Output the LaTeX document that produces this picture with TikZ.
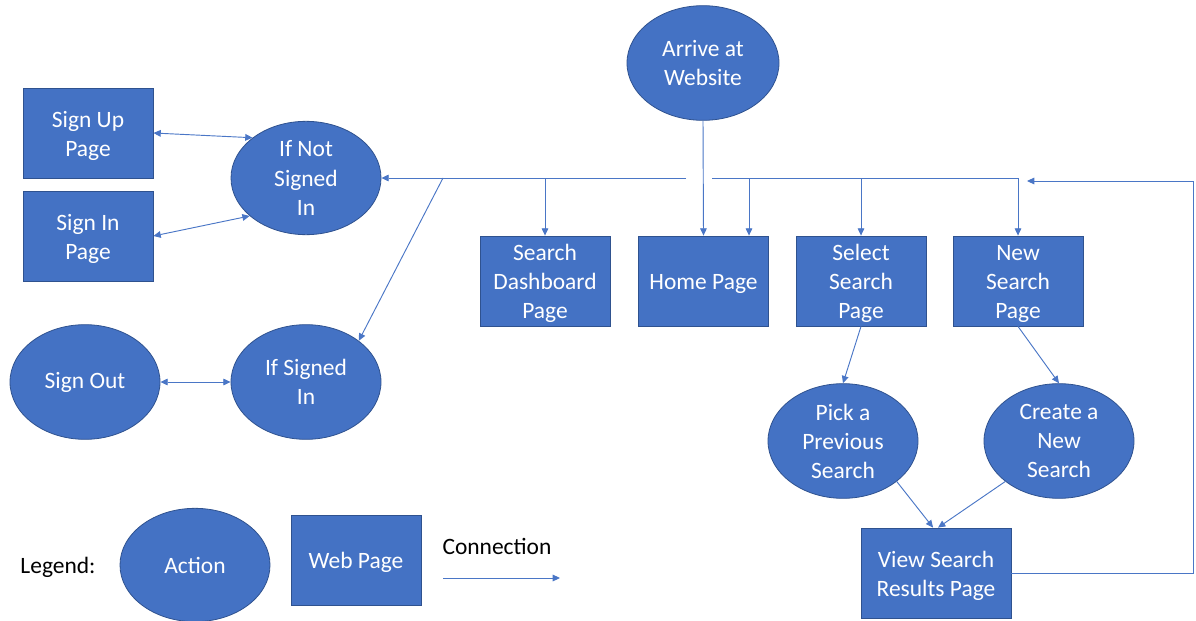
\documentclass[tikz,border=0pt]{standalone}
\usepackage{fontspec}
\setmainfont{Carlito}
\usetikzlibrary{shapes.geometric,arrows.meta}
\definecolor{boxblue}{HTML}{4472C4}
\definecolor{edgeblue}{HTML}{2F528F}
\definecolor{lineblue}{HTML}{4A76C6}
% tall invisible strut that lowers the text block inside page boxes
\newcommand{\pagestrut}{\rule{0pt}{16pt}}
\tikzset{
  txt/.style={font=\fontsize{17.6}{21.8}\selectfont, align=center},
  page/.style={txt, rectangle, fill=boxblue, draw=edgeblue, line width=0.6pt,
    text=white, minimum width=97.5pt, minimum height=67.5pt, inner sep=0pt},
  action/.style={txt, ellipse, fill=boxblue, draw=edgeblue, line width=0.6pt,
    text=white, minimum width=112.5pt, minimum height=86pt, inner sep=0pt},
  conn/.style={draw=lineblue, line width=0.7pt},
  arr/.style={-{Triangle[length=5.5pt,width=5pt]}},
  darr/.style={{Triangle[length=5.5pt,width=5pt]}-{Triangle[length=5.5pt,width=5pt]}},
  plain/.style={txt, text=black},
}
\begin{document}
\begin{tikzpicture}[x=0.75pt,y=-0.75pt]
\useasboundingbox (0,0) rectangle (1196,621);

% start of the visit
\node[action, minimum width=114pt] (arrive) at (703,63) {Arrive at\\Website};

% account pages and states
\node[page] (signup) at (88,133) {\pagestrut Sign Up\\Page};
\node[page] (signin) at (88,236) {\pagestrut Sign In\\Page};
\node[action, minimum height=85pt] (ifnot) at (306,178) {If Not\\Signed\\In};
\node[action] (signout) at (85,382) {Sign Out};
\node[action] (ifsigned) at (306,382) {If Signed\\In};

% main pages
\node[page] (dash) at (545,281) {\pagestrut Search\\Dashboard\\Page};
\node[page] (home) at (703.5,281) {\pagestrut Home Page};
\node[page] (select) at (861,281) {\pagestrut Select\\Search\\Page};
\node[page] (newsearch) at (1018,281) {\pagestrut New\\Search\\Page};

% search actions and results
\node[action] (pick) at (843,441) {Pick a\\Previous\\Search};
\node[action] (create) at (1059,441) {Create a\\New\\Search};
\node[page, minimum width=112.5pt] (view) at (936,573) {\pagestrut View Search\\Results Page};

% legend
\node[plain, anchor=center] (legend) at (58,567) {Legend:};
\node[action, minimum height=85pt] (legaction) at (195,565) {Action};
\node[page] (legpage) at (356,560) {\pagestrut Web Page};
\node[plain] (legconn) at (497,546) {Connection};
\coordinate (legA) at (443,578);
\coordinate (legB) at (560,578);
\draw[conn,arr] (legA) -- (legB);

% account links
\draw[conn,darr] (signup.east) -- (ifnot.143);
\draw[conn,darr] (signin.east) -- (ifnot.214);
\draw[conn,darr] (signout.east) -- (ifsigned.west);

% left distribution line
\coordinate (hl) at (686,178);
\coordinate (diagTap) at (443,178);
\draw[conn,arr] (hl) -- (ifnot.east);
\draw[conn,arr] (dash.north |- hl) -- (dash.north);
\draw[conn,arr] (diagTap) -- (ifsigned.38);

% entry to the home page
\draw[conn,arr] (arrive.south) -- (home.north);

% right distribution line
\coordinate (hr1) at (712,178);
\coordinate (hr2) at (1018,178);
\coordinate (homeTap) at (749,178);
\draw[conn] (hr1) -- (hr2);
\draw[conn,arr] (homeTap) -- (homeTap |- home.north);
\draw[conn,arr] (select.north |- hr1) -- (select.north);
\draw[conn,arr] (hr2) -- (newsearch.north);

% search flow
\draw[conn,arr] (select.south) -- (pick.north);
\draw[conn,arr] (newsearch.south) -- (create.north);
\draw[conn,arr] (pick.-37) -- ([xshift=-2.2pt]view.north);
\draw[conn,arr] (create.217) -- ([xshift=1.5pt]view.north);

% return loop from the results page
\coordinate (loopEnd) at (1027,181);
\draw[conn,arr] (view.east) -- (1193,573) |- (loopEnd);
\end{tikzpicture}
\end{document}
